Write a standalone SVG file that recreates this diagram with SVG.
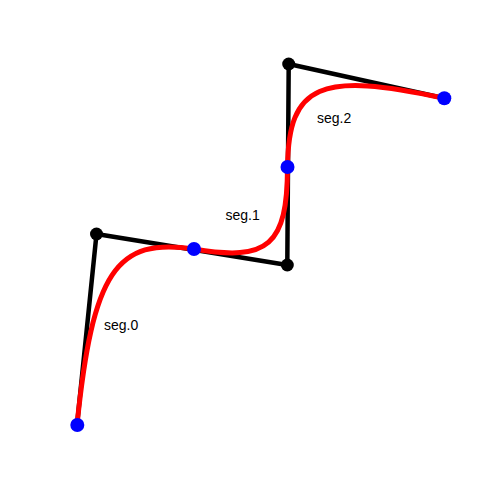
<svg xmlns="http://www.w3.org/2000/svg" width="500" height="500" viewBox="0 0 500 500">
<style>
.poly{fill:none;stroke:#000;stroke-width:4.5;stroke-linejoin:round}
.curve{fill:none;stroke:#f00;stroke-width:5}
.ctrl{fill:#000}
.knot{fill:#00f}
.lbl{font-family:"Liberation Sans",Arial,sans-serif;font-size:14px;fill:#000}
</style>
<rect width="500" height="500" fill="#fff"/>
<g id="connectors">
<polyline class="poly" points="77,425 96.5,234 287.3,265 288.7,64 444.3,98.3"/>
<path id="seg0" class="curve" d="M77,425 C92.6,272.2 116,237 194,249"/>
<path id="seg1" class="curve" d="M194,249 C268.6,261.8 287.3,245.4 287.5,167"/>
<path id="seg2" class="curve" d="M287.5,167 C288.5,84.6 319.8,70.9 444.3,98.3"/>
</g>
<g id="control-points">
<circle class="ctrl" cx="96.5" cy="234" r="6.5"/>
<circle class="ctrl" cx="287.3" cy="265" r="6.5"/>
<circle class="ctrl" cx="288.7" cy="64" r="6.5"/>
</g>
<g id="knots">
<circle class="knot" cx="77.3" cy="425" r="7"/>
<circle class="knot" cx="194" cy="249" r="7"/>
<circle class="knot" cx="287.5" cy="167" r="7"/>
<circle class="knot" cx="444.3" cy="98.3" r="7"/>
</g>
<g id="labels">
<text class="lbl" x="104" y="330">seg.0</text>
<text class="lbl" x="225.5" y="220">seg.1</text>
<text class="lbl" x="317" y="123">seg.2</text>
</g>
</svg>
